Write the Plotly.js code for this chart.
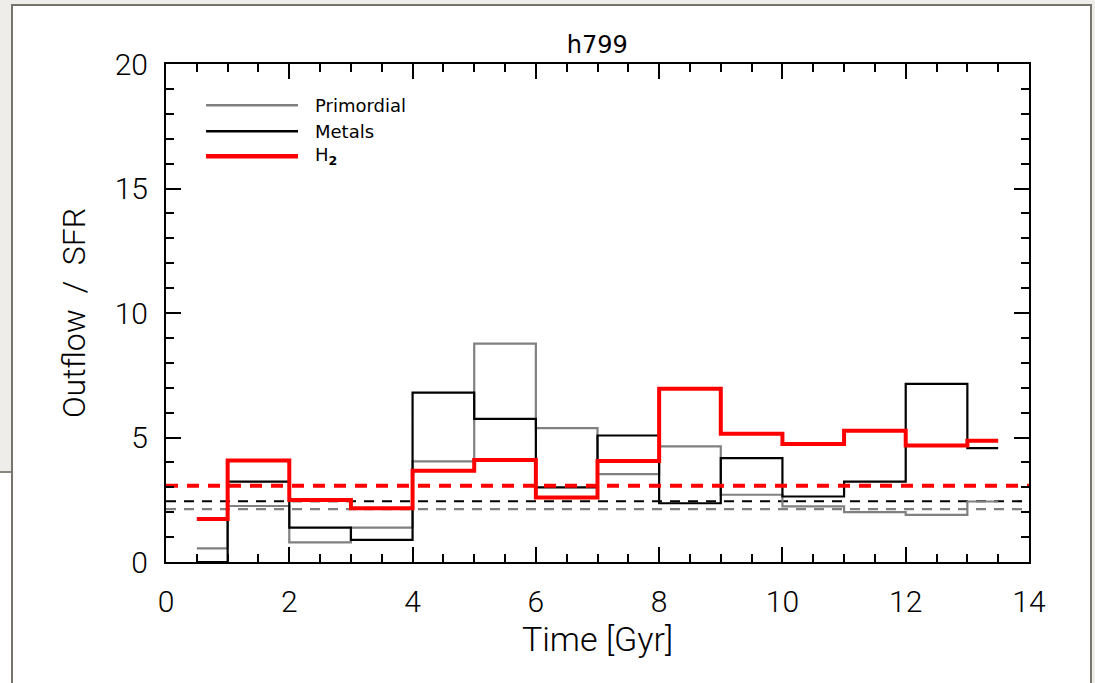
<!DOCTYPE html>
<html>
<head>
<meta charset="utf-8">
<script src="https://cdn.plot.ly/plotly-3.0.1.min.js"></script>
<style>
  html, body { margin: 0; padding: 0; width: 1095px; height: 683px; overflow: hidden; background: #eeede9; }
  #panel { position: absolute; left: 11px; top: 4px; width: 1081px; height: 690px; background: #ffffff; border: 2px solid #77756b; box-sizing: border-box; }
  #lowerwin { position: absolute; left: 0; top: 471px; width: 13px; height: 220px; background: #ffffff; border-top: 2px solid #8a887e; box-sizing: border-box; }
  #chart { position: absolute; left: 0; top: 0; width: 1095px; height: 683px; }
</style>
</head>
<body>
<div id="lowerwin"></div>
<div id="panel"></div>
<div id="chart"></div>
<script>
// Bin edges (Gyr) and per-bin values (Outflow / SFR)
var binEdges = [0.5, 1, 2, 3, 4, 5, 6, 7, 8, 9, 10, 11, 12, 13, 13.5];
var primordial = [0.55, 2.25, 0.79, 1.38, 4.04, 8.77, 5.38, 3.53, 4.64, 2.70, 2.23, 2.00, 1.89, 2.43];
var metals     = [0.00, 3.23, 1.38, 0.89, 6.80, 5.75, 3.00, 5.08, 2.36, 4.17, 2.63, 3.23, 7.15, 4.57];
var h2         = [1.73, 4.08, 2.49, 2.16, 3.66, 4.10, 2.59, 4.06, 6.96, 5.15, 4.74, 5.27, 4.68, 4.87];
// Mean levels (dashed)
var meanPrimordial = 2.12;
var meanMetals = 2.44;
var meanH2 = 3.06;
var meanSpan = [0, 14];

var seriesNames = ['Primordial', 'Metals', 'H<sub><b>2</b></sub>'];
var seriesColors = ['#808080', '#000000', '#ff0000'];
var seriesWidths = [2.2, 2.2, 4];

function stepY(vals) { return vals.concat([vals[vals.length - 1]]); }

var fontFam = 'Roboto, "DejaVu Sans", sans-serif';
var legFont = '"DejaVu Sans", sans-serif';

var traces = [
  { x: meanSpan, y: [meanPrimordial, meanPrimordial], mode: 'lines', line: { color: seriesColors[0], width: 2.2, dash: '10px,8px' }, showlegend: false, hoverinfo: 'skip' },
  { x: meanSpan, y: [meanMetals, meanMetals], mode: 'lines', line: { color: seriesColors[1], width: 2.2, dash: '10px,8px' }, showlegend: false, hoverinfo: 'skip' },
  { x: binEdges, y: stepY(primordial), mode: 'lines', line: { shape: 'hv', color: seriesColors[0], width: seriesWidths[0] }, name: 'Primordial', showlegend: false },
  { x: binEdges, y: stepY(metals), mode: 'lines', line: { shape: 'hv', color: seriesColors[1], width: seriesWidths[1] }, name: 'Metals', showlegend: false },
  { x: meanSpan, y: [meanH2, meanH2], mode: 'lines', line: { color: seriesColors[2], width: 4, dash: '12px,9px' }, showlegend: false, hoverinfo: 'skip' },
  { x: binEdges, y: stepY(h2), mode: 'lines', line: { shape: 'hv', color: seriesColors[2], width: seriesWidths[2] }, name: 'H2', showlegend: false }
];

// Legend drawn in paper coords (line samples + labels)
var legY = [0.917, 0.865, 0.815];
var shapes = [];
var annotations = [];
for (var i = 0; i < 3; i++) {
  shapes.push({ type: 'line', xref: 'paper', yref: 'paper', x0: 0.0464, x1: 0.153, y0: legY[i], y1: legY[i], line: { color: seriesColors[i], width: seriesWidths[i] === 4 ? 4.5 : 2.5 } });
  annotations.push({ xref: 'paper', yref: 'paper', x: 0.170, y: legY[i], xanchor: 'left', yanchor: 'middle', text: seriesNames[i], showarrow: false, font: { family: legFont, size: 18, color: '#000' } });
}

var axisCommon = {
  showline: true, linecolor: '#000', linewidth: 2, mirror: 'allticks',
  ticks: 'inside', ticklen: 15, tickwidth: 2, tickcolor: '#000',
  showgrid: false, zeroline: false,
  tickfont: { family: fontFam, size: 30, color: '#000', weight: 300 }
};

var layout = {
  width: 1095, height: 683,
  margin: { l: 166, r: 66, t: 64, b: 121 },
  paper_bgcolor: 'rgba(0,0,0,0)', plot_bgcolor: 'rgba(0,0,0,0)',
  showlegend: false,
  title: { text: 'h799', x: 0.5455, xanchor: 'center', y: 0.935, yanchor: 'middle', font: { family: legFont, size: 24, color: '#000' } },
  xaxis: Object.assign({}, axisCommon, {
    range: [0, 14], tickvals: [0, 2, 4, 6, 8, 10, 12, 14], ticklabelstandoff: 12,
    minor: { dtick: 0.5, ticks: 'inside', ticklen: 8, tickwidth: 2, tickcolor: '#000', showgrid: false },
    title: { text: 'Time [Gyr]', standoff: 8, font: { family: fontFam, size: 34, color: '#000', weight: 300 } }
  }),
  yaxis: Object.assign({}, axisCommon, {
    range: [0, 20], tickvals: [0, 5, 10, 15, 20], ticklabelstandoff: 10,
    minor: { dtick: 1, ticks: 'inside', ticklen: 8, tickwidth: 2, tickcolor: '#000', showgrid: false },
    title: { text: 'Outflow  /  SFR', standoff: 20, font: { family: fontFam, size: 32, color: '#000', weight: 300 } }
  }),
  shapes: shapes,
  annotations: annotations
};

Plotly.newPlot('chart', traces, layout, { displayModeBar: false, staticPlot: true });
</script>
</body>
</html>
